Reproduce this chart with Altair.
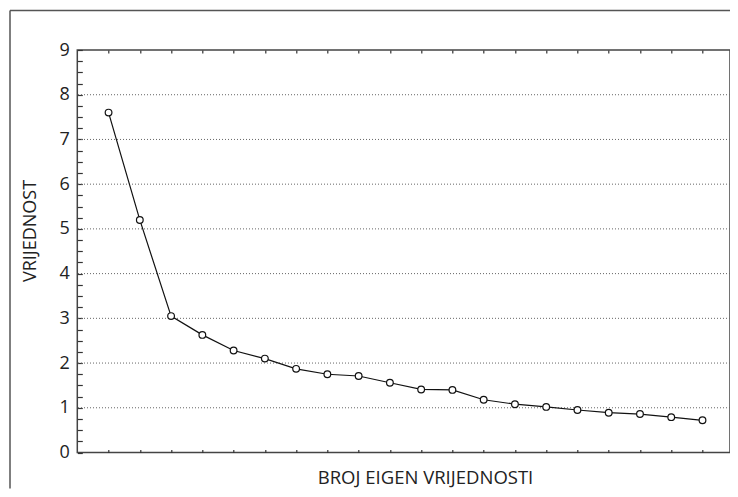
import altair as alt
import pandas as pd

# ---- data ----
eigen_index = list(range(1, 21))
eigen_values = [7.60, 5.20, 3.05, 2.63, 2.28, 2.10, 1.87, 1.75, 1.71, 1.56,
                1.41, 1.40, 1.18, 1.08, 1.02, 0.95, 0.89, 0.86, 0.79, 0.72]
grid_values = [1, 2, 3, 4, 5, 6, 7, 8]
y_tick_values = [i * 0.25 for i in range(37)]
x_tick_values = eigen_index

df = pd.DataFrame({"n": eigen_index, "v": eigen_values})
grid_df = pd.DataFrame({"g": grid_values})
frame_df = pd.DataFrame({"a": [0]})

W, H = 652.7, 402.5
FONT = "Open Sans"
TXT = "#222222"

xscale = alt.Scale(domain=[0, 20.88], nice=False, zero=False)
yscale = alt.Scale(domain=[0, 9], nice=False)

yaxis = alt.Axis(
    orient="left", values=y_tick_values, tickSize=5, offset=-5, domain=False, grid=False,
    tickColor="#333333", tickWidth=1.2,
    labelExpr="datum.value % 1 === 0 ? format(datum.value, 'd') : ''",
    labelOverlap=False, labelPadding=8, labelFont=FONT, labelFontSize=18, labelColor=TXT,
    title="VRIJEDNOST", titleFont=FONT, titleFontSize=18, titleFontWeight="normal",
    titleColor=TXT, titleAngle=270, titleX=-51.5, titleY=180.5,
    titleBaseline="middle", titleAlign="center",
)

xaxis_bottom = alt.Axis(
    orient="bottom", values=x_tick_values, tickSize=3, offset=-3, domain=False,
    labels=False, grid=False, tickColor="#333333", tickWidth=1.2,
    title="BROJ EIGEN VRIJEDNOSTI", titleFont=FONT, titleFontSize=18.5,
    titleFontWeight="normal", titleColor=TXT, titleX=347.7, titleY=33.5,
    titleBaseline="alphabetic", titleAlign="center",
)

xaxis_top = alt.Axis(
    orient="top", values=x_tick_values, tickSize=3, offset=-3, domain=False,
    labels=False, grid=False, tickColor="#333333", tickWidth=1.2, title="",
)

grid = alt.Chart(grid_df).mark_rule(color="#666666", strokeDash=[1, 2], strokeWidth=1).encode(
    y=alt.Y("g:Q", scale=yscale, axis=yaxis)
)

line = alt.Chart(df).mark_line(color="#111111", strokeWidth=1.2).encode(
    x=alt.X("n:Q", scale=xscale, axis=xaxis_bottom),
    y=alt.Y("v:Q", scale=yscale, axis=yaxis),
)

points = alt.Chart(df).mark_point(
    shape="circle", filled=True, fill="white", stroke="#111111",
    strokeWidth=1.2, size=45, opacity=1
).encode(
    x=alt.X("n:Q", scale=xscale, axis=xaxis_top),
    y=alt.Y("v:Q", scale=yscale, axis=yaxis),
)

# outer decorative frame (left and top edges)
frame_left = alt.Chart(frame_df).mark_rule(color="#555555", strokeWidth=1.5).encode(
    x=alt.value(-67.3), y=alt.value(-39.5), y2=alt.value(H + 36)
)
frame_top = alt.Chart(frame_df).mark_rule(color="#555555", strokeWidth=1.5).encode(
    x=alt.value(-67.3), x2=alt.value(W + 3), y=alt.value(-39.5)
)

chart = alt.layer(grid, line, points, frame_left, frame_top).resolve_scale(
    x="shared", y="shared"
).resolve_axis(x="independent", y="shared").properties(
    width=W, height=H,
    autosize=alt.AutoSizeParams(type="none"),
    padding={"left": 69.3, "top": 42, "right": 0, "bottom": 36.5},
    background="white",
).configure_view(stroke="#444444", strokeWidth=1.5)

chart.save("out.html", embed_options={"renderer": "svg", "actions": False})
